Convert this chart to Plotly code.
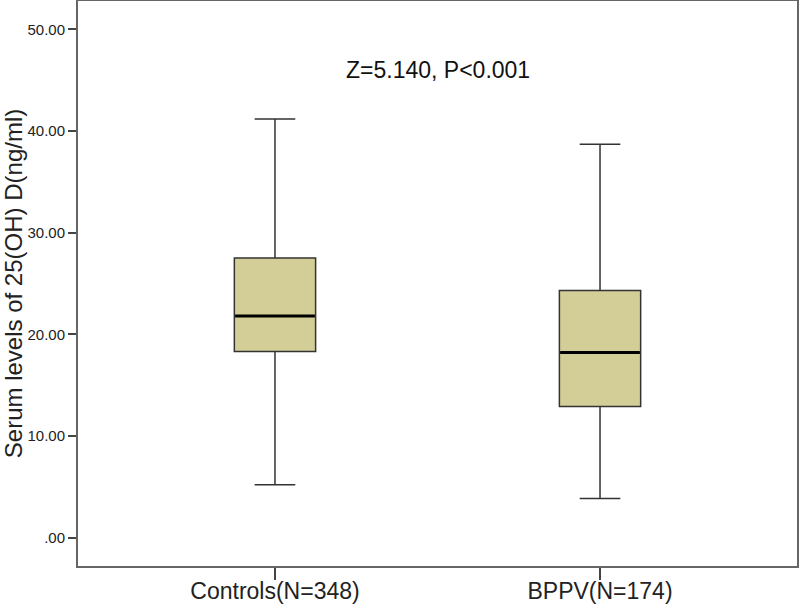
import plotly.graph_objects as go

categories = ["Controls(N=348)", "BPPV(N=174)"]
positions = [0, 1]
upper_whisker = [41.2, 38.7]
q3 = [27.5, 24.3]
median = [21.8, 18.2]
q1 = [18.3, 12.9]
lower_whisker = [5.2, 3.85]
ytick_vals = [0, 10, 20, 30, 40, 50]
ytick_text = [".00", "10.00", "20.00", "30.00", "40.00", "50.00"]
box_w = 0.25

fig = go.Figure()
fig.add_trace(go.Box(
    x=positions, q1=q1, median=median, q3=q3,
    lowerfence=lower_whisker, upperfence=upper_whisker,
    width=box_w, whiskerwidth=0.5,
    fillcolor="#D3CE97", line=dict(color="#333333", width=1.5),
    boxpoints=False, hoverinfo="skip", showlegend=False,
))
for p, m in zip(positions, median):
    fig.add_trace(go.Scatter(
        x=[p - box_w / 2 * 0.98, p + box_w / 2 * 0.98], y=[m, m], mode="lines",
        line=dict(color="black", width=3), showlegend=False, hoverinfo="skip",
    ))

fig.add_annotation(x=0.5, y=46.0, text="Z=5.140, P<0.001", showarrow=False,
                   font=dict(size=23, color="#111111"))

fig.update_layout(
    width=800, height=607,
    margin=dict(l=78, r=3, t=1, b=41),
    paper_bgcolor="white", plot_bgcolor="white",
    font=dict(family="Liberation Sans, Arial, sans-serif", color="#222222"),
    xaxis=dict(range=[-0.606, 1.606], tickvals=positions, ticktext=categories,
               ticks="outside", ticklen=12, tickcolor="#444444", tickwidth=1.5,
               ticklabelstandoff=-9,
               tickfont=dict(size=23), showgrid=False, zeroline=False, automargin=False,
               showline=True, linecolor="#666666", linewidth=2, mirror=True),
    yaxis=dict(range=[-2.8, 52.8], tickvals=ytick_vals, ticktext=ytick_text,
               ticks="outside", ticklen=8, tickcolor="#444444", tickwidth=1.5,
               tickfont=dict(size=15), showgrid=False, zeroline=False, automargin=False,
               showline=True, linecolor="#666666", linewidth=2, mirror=True,
               title=dict(text="Serum levels of 25(OH) D(ng/ml)", font=dict(size=24),
                          standoff=4)),
)
fig.write_html("out.html", config={"displayModeBar": False},
               post_script="document.body.style.margin='0';")
